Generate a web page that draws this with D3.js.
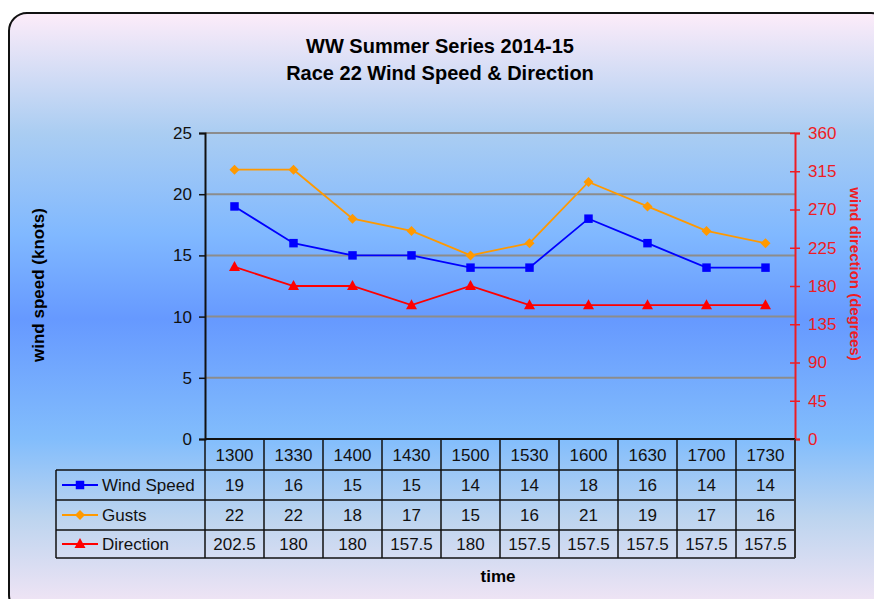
<!DOCTYPE html>
<html>
<head>
<meta charset="utf-8">
<script src="https://cdn.jsdelivr.net/npm/d3@7"></script>
<style>
  body { margin: 0; background: #fff; }
  text { font-family: "Liberation Sans", Arial, sans-serif; }
</style>
</head>
<body>
<svg id="chart" width="874" height="599"></svg>
<script>
var times     = ["1300", "1330", "1400", "1430", "1500", "1530", "1600", "1630", "1700", "1730"],
    windSpeed = [19, 16, 15, 15, 14, 14, 18, 16, 14, 14],
    gusts     = [22, 22, 18, 17, 15, 16, 21, 19, 17, 16],
    direction = [202.5, 180, 180, 157.5, 180, 157.5, 157.5, 157.5, 157.5, 157.5]

var speedTicks = [0, 5, 10, 15, 20, 25],
    dirTicks   = [0, 45, 90, 135, 180, 225, 270, 315, 360]

var series = [
  { label: "Wind Speed", values: windSpeed, color: "#0000ff", marker: "square",   axis: "left" },
  { label: "Gusts",      values: gusts,     color: "#ff9900", marker: "diamond",  axis: "left" },
  { label: "Direction",  values: direction, color: "#ff0000", marker: "triangle", axis: "right" }
]

var plot = { left: 205, right: 795, top: 133, bottom: 439 },
    rowH = [31, 30, 30],
    fs   = 17

var svg = d3.select("#chart")

// background gradient {{{
var defs = svg.append("defs")
var grad = defs.append("linearGradient")
  .attr("id", "bg").attr("x1", 0).attr("x2", 0).attr("y1", 0).attr("y2", 1)
;[[0, "#fdecf9"], [0.2, "#aacdf2"], [0.37, "#80b8ff"], [0.51, "#6699ff"],
  [0.71, "#82bdfc"], [0.84, "#bcd4ef"], [1, "#f6e6f5"]].forEach(s => {
  grad.append("stop").attr("offset", s[0]).attr("stop-color", s[1])
})

svg.append("rect")
  .attr("x", 9).attr("y", 13).attr("width", 880).attr("height", 600)
  .attr("rx", 18).attr("ry", 18)
  .attr("fill", "url(#bg)")
  .attr("stroke", "#111").attr("stroke-width", 2)
//}}}

// titles
svg.append("text").attr("x", 440).attr("y", 53).attr("text-anchor", "middle")
  .attr("font-size", 20).attr("font-weight", "bold").text("WW Summer Series 2014-15")
svg.append("text").attr("x", 440).attr("y", 80).attr("text-anchor", "middle")
  .attr("font-size", 20).attr("font-weight", "bold").text("Race 22 Wind Speed & Direction")

// scales
var x = d3.scaleBand().domain(times).range([plot.left, plot.right])
var y = d3.scaleLinear().domain([0, 25]).range([plot.bottom, plot.top])
var y2 = d3.scaleLinear().domain([0, 360]).range([plot.bottom, plot.top])

// gridlines
svg.append("g").selectAll("line")
  .data(speedTicks.filter(d => d > 0))
  .join("line")
  .attr("x1", plot.left).attr("x2", plot.right)
  .attr("y1", d => y(d)).attr("y2", d => y(d))
  .attr("stroke", "#8c8c8c").attr("stroke-width", 2)

// left axis
var leftAxis = svg.append("g")
  .attr("transform", "translate(" + plot.left + ",0)")
  .call(d3.axisLeft(y).tickValues(speedTicks).tickSize(6).tickPadding(7))
leftAxis.select(".domain").attr("stroke", "#111").attr("stroke-width", 2)
leftAxis.selectAll(".tick line").attr("stroke", "#111").attr("stroke-width", 1.5)
leftAxis.selectAll("text").attr("font-size", fs).attr("fill", "#111")
  .style("font-family", "Liberation Sans, Arial, sans-serif")

// right axis
var rightAxis = svg.append("g")
  .attr("transform", "translate(" + plot.right + ",0)")
  .call(d3.axisRight(y2).tickValues(dirTicks).tickSize(5).tickPadding(8))
rightAxis.select(".domain").attr("stroke", "#ee1c24").attr("stroke-width", 2)
rightAxis.selectAll(".tick line").attr("stroke", "#ee1c24").attr("stroke-width", 1.5).attr("x1", -5)
rightAxis.selectAll("text").attr("font-size", fs).attr("fill", "#ee1c24")
  .style("font-family", "Liberation Sans, Arial, sans-serif")

// axis titles
svg.append("text").attr("transform", "translate(44,285) rotate(-90)")
  .attr("text-anchor", "middle").attr("font-size", 17).attr("font-weight", "bold")
  .text("wind speed (knots)")
svg.append("text").attr("transform", "translate(850,274) rotate(90)")
  .attr("text-anchor", "middle").attr("font-size", 15).attr("font-weight", "bold")
  .attr("fill", "#ee1c24").text("wind direction (degrees)")
svg.append("text").attr("x", 498).attr("y", 582)
  .attr("text-anchor", "middle").attr("font-size", 17).attr("font-weight", "bold")
  .text("time")

// markers
function markerPath(type) {
  if(type == "square") return d3.symbol(d3.symbolSquare, 72)()
  if(type == "diamond") return "M0,-5L5,0L0,5L-5,0Z"
  return "M0,-6L5.5,4L-5.5,4Z"
}

// lines
var line = d3.line()
series.forEach(s => {
  var ys = s.axis == "left" ? y : y2
  var pts = s.values.map((v, i) => [x(times[i]) + x.bandwidth() / 2, ys(v)])
  svg.append("path")
    .attr("d", line(pts))
    .attr("fill", "none").attr("stroke", s.color).attr("stroke-width", 1.8)
  svg.append("g").selectAll("path")
    .data(pts)
    .join("path")
    .attr("transform", d => "translate(" + d[0] + "," + d[1] + ")")
    .attr("d", markerPath(s.marker))
    .attr("fill", s.color)
})

// data table {{{
var tableLeft = 56
var rowTops = [plot.bottom]
rowH.forEach((h, i) => rowTops.push(rowTops[i] + h))
rowTops.push(rowTops[rowTops.length - 1] + 28)
var tableBottom = rowTops[rowTops.length - 1]
var tg = svg.append("g")

// horizontal lines
rowTops.slice(1).forEach(ry => {
  tg.append("line").attr("x1", tableLeft).attr("x2", plot.right)
    .attr("y1", ry).attr("y2", ry).attr("stroke", "#111").attr("stroke-width", 1.5)
})
// x axis line
tg.append("line").attr("x1", plot.left).attr("x2", plot.right)
  .attr("y1", plot.bottom).attr("y2", plot.bottom).attr("stroke", "#111").attr("stroke-width", 2)
// vertical lines
times.forEach(t => {
  tg.append("line").attr("x1", x(t)).attr("x2", x(t))
    .attr("y1", plot.bottom).attr("y2", tableBottom).attr("stroke", "#111").attr("stroke-width", 1.5)
})
tg.append("line").attr("x1", plot.right).attr("x2", plot.right)
  .attr("y1", plot.bottom).attr("y2", tableBottom).attr("stroke", "#333").attr("stroke-width", 2)
tg.append("line").attr("x1", tableLeft).attr("x2", tableLeft)
  .attr("y1", rowTops[1]).attr("y2", tableBottom).attr("stroke", "#111").attr("stroke-width", 1.5)

// header (category) row
tg.selectAll(".cat").data(times).join("text")
  .attr("x", d => x(d) + x.bandwidth() / 2)
  .attr("y", (rowTops[0] + rowTops[1]) / 2 + 6)
  .attr("text-anchor", "middle").attr("font-size", fs).attr("fill", "#111")
  .text(d => d)

series.forEach((s, si) => {
  var cy = (rowTops[si + 1] + rowTops[si + 2]) / 2
  tg.append("line").attr("x1", 62).attr("x2", 98).attr("y1", cy).attr("y2", cy)
    .attr("stroke", s.color).attr("stroke-width", 1.8)
  tg.append("path").attr("transform", "translate(80," + cy + ")")
    .attr("d", markerPath(s.marker)).attr("fill", s.color)
  tg.append("text").attr("x", 102).attr("y", cy + 6)
    .attr("font-size", fs).attr("fill", "#111").text(s.label)
  tg.append("g").selectAll("text").data(s.values).join("text")
    .attr("x", (d, i) => x(times[i]) + x.bandwidth() / 2)
    .attr("y", cy + 6)
    .attr("text-anchor", "middle").attr("font-size", fs).attr("fill", "#111")
    .text(d => d)
})
//}}}
</script>
</body>
</html>
